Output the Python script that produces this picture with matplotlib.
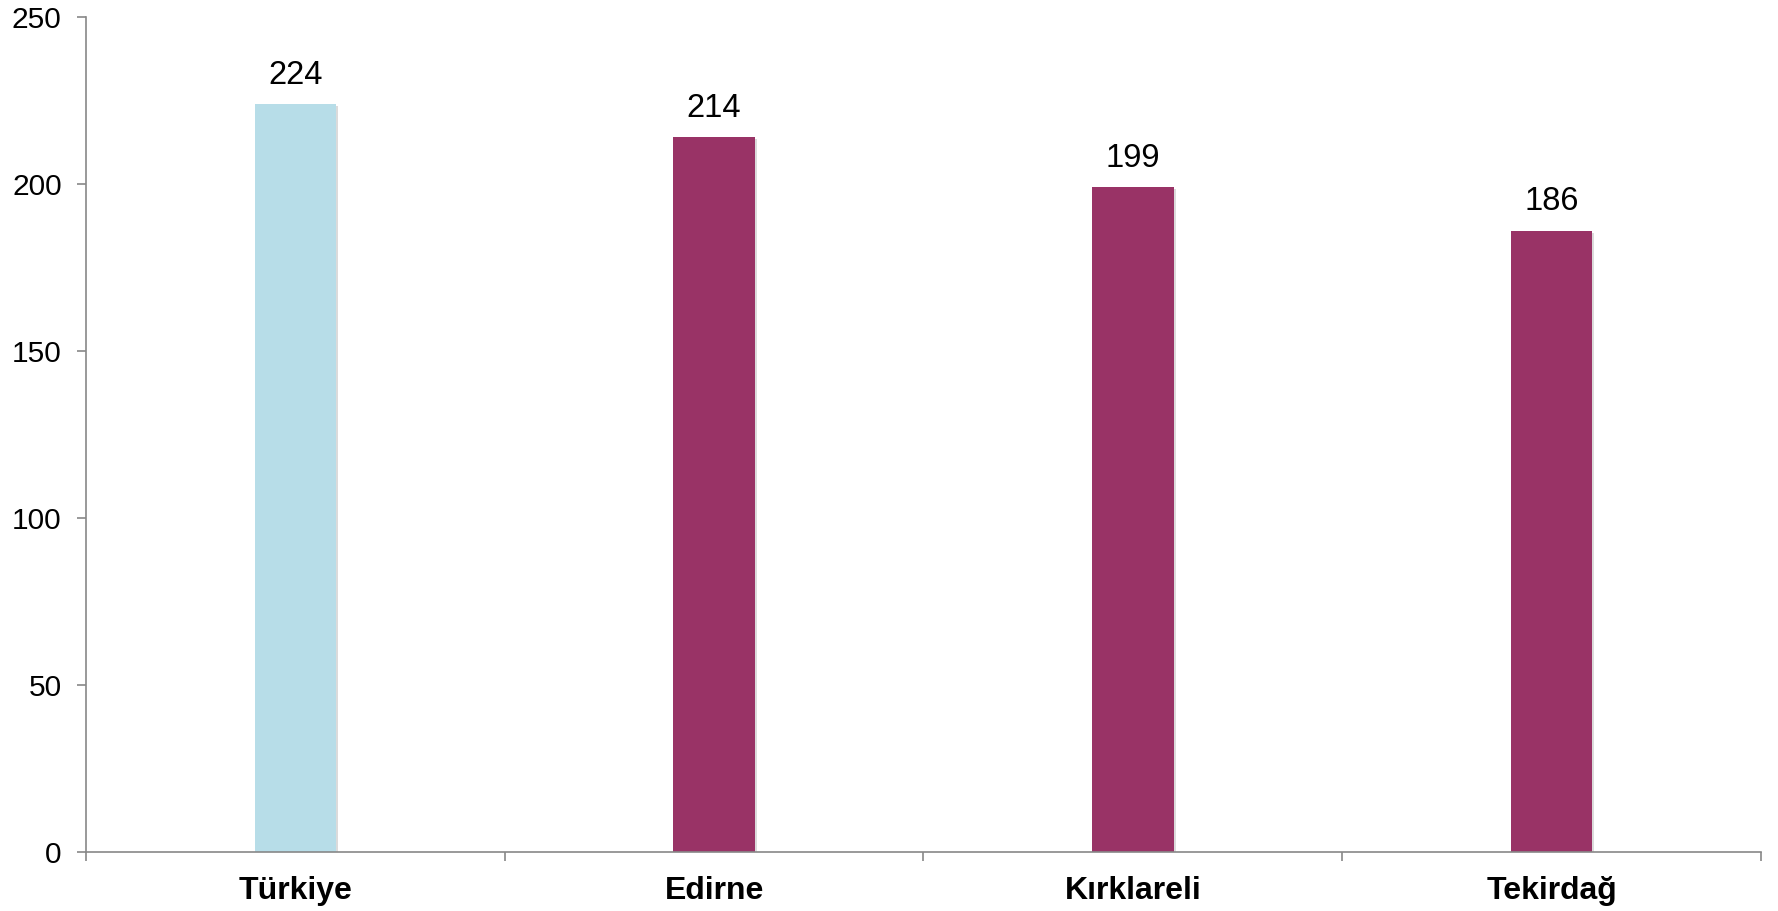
import matplotlib.pyplot as plt
import matplotlib.patheffects as pe

plt.rcParams['font.family'] = ['Liberation Sans', 'DejaVu Sans']

categories = ['Türkiye', 'Edirne', 'Kırklareli', 'Tekirdağ']
values = [224, 214, 199, 186]
colors = ['#B7DDE8', '#993366', '#993366', '#993366']
yticks = [0, 50, 100, 150, 200, 250]

fig = plt.figure(figsize=(17.78, 9.11), dpi=100)
ax = fig.add_axes([0.0484, 0.0648, 0.942, 0.9165])

x = range(len(categories))
bars = ax.bar(x, values, width=0.195, color=colors, zorder=2)
for b in bars:
    b.set_path_effects([pe.SimplePatchShadow(offset=(1.5, -1.5), shadow_rgbFace='#999999', alpha=0.35), pe.Normal()])

for xi, v in zip(x, values):
    ax.text(xi, v + 4, str(v), ha='center', va='bottom', fontsize=23.5)

ax.set_xlim(-0.5, len(categories) - 0.5)
ax.set_ylim(0, 250)
ax.set_yticks(yticks)
ax.tick_params(axis='y', labelsize=21.5, length=6.5, width=1.2, color='#888888', pad=11)

ax.set_xticks(list(x))
ax.set_xticklabels(categories, fontsize=23, fontweight='bold')
ax.tick_params(axis='x', which='major', length=0, pad=17)
ax.set_xticks([i - 0.5 for i in range(len(categories) + 1)], minor=True)
ax.tick_params(axis='x', which='minor', length=6.5, width=1.2, color='#888888')

for s in ['top', 'right']:
    ax.spines[s].set_visible(False)
for s in ['left', 'bottom']:
    ax.spines[s].set_color('#888888')
    ax.spines[s].set_linewidth(1.2)

fig.savefig('out.png', dpi=100)
